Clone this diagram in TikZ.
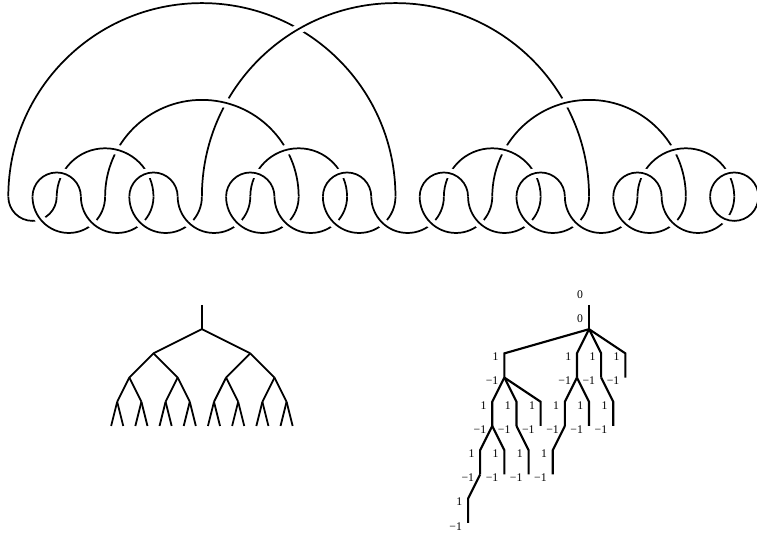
\documentclass[tikz,border=0pt]{standalone}
\usepackage{fontspec}
\setmainfont{Liberation Serif}

\tikzset{
    strand/.style={line width=1.3pt,preaction={draw=white,line width=7.5pt}},
    treeline/.style={line width=1.35pt},
    weightline/.style={line width=1.6pt},
    weight/.style={font=\fontsize{8.8}{10}\selectfont,inner sep=0pt},
}

\begin{document}
\begin{tikzpicture}[y=18.15pt,x=18.15pt]
    \useasboundingbox (-0.343,-13.98) rectangle (30.94,8.128);
    % upper arcs, lowest first
    \foreach \x in {0,8}{
        \draw[strand] (\x,0) arc (180:0:8);
    }
    \foreach \x in {4,20}{
        \draw[strand] (\x,0) arc (180:0:4);
    }
    \foreach \x in {2,10,18,26}{
        \draw[strand] (\x,0) arc (180:0:2);
    }
    \foreach \x in {1,5,...,29}{
        \draw[strand] (\x,0) arc (180:0:1);
    }
    % lower arcs
    \draw[strand] (0,0) arc (180:360:1);
    \foreach \x in {1,3,...,27}{
        \draw[strand] (\x,0) arc (180:360:1.5);
    }
    \draw[strand] (29,0) arc (180:360:1);

    % binary tree
    \coordinate (top) at (8,-4.475);
    \coordinate (r) at (8,-5.475);
    \draw[treeline] (top) -- (r);
    \foreach \a/\sa in {a/-2,b/2}{
        \path (r) ++(\sa,-1) coordinate (\a);
        \draw[treeline] (r) -- (\a);
        \foreach \b/\sb in {l/-1,r/1}{
            \path (\a) ++(\sb,-1) coordinate (\a\b);
            \draw[treeline] (\a) -- (\a\b);
            \foreach \c/\sc in {l/-.5,r/.5}{
                \path (\a\b) ++(\sc,-1) coordinate (\a\b\c);
                \draw[treeline] (\a\b) -- (\a\b\c);
                \foreach \d/\sd in {l/-.25,r/.25}{
                    \path (\a\b\c) ++(\sd,-1) coordinate (\a\b\c\d);
                    \draw[treeline] (\a\b\c) -- (\a\b\c\d);
                }
            }
        }
    }

    % weighted tree
    \coordinate (Top) at (24,-4.475);
    \coordinate (R) at (24,-5.475);
    \draw[weightline] (Top) -- (R);
    \path (Top) ++(-.37,.42) node[weight] (zero1) {0};
    \path (R) ++(-.37,.42) node[weight] (zero2) {0};
    \foreach \up/\kid/\dx in {R/a/-3.5,R/b/-.5,R/c/.5,R/d/1.5,
        a/aa/-.5,a/ab/.5,a/ac/1.5,b/ba/-.5,b/bb/.5,c/ca/.5,
        aa/aaa/-.5,aa/aab/.5,ab/aba/.5,ba/baa/-.5,aaa/aaaa/-.5}{
        \path (\up) ++(\dx,-1) coordinate (\kid t) ++(0,-1) coordinate (\kid);
        \draw[weightline] (\up) -- (\kid t) -- (\kid);
        \path (\kid t) ++(-.36,-.14) node[weight] (\kid one) {1};
        \path (\kid) ++(-.51,-.14) node[weight] (\kid two) {−1};
    }
\end{tikzpicture}
\end{document}
